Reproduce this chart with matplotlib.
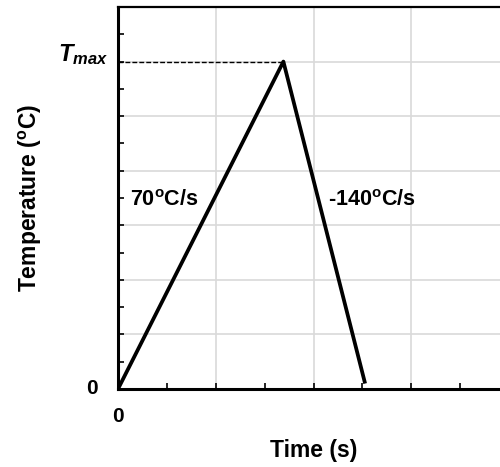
import matplotlib
matplotlib.use("Agg")
import matplotlib.pyplot as plt
from matplotlib.ticker import MultipleLocator, NullFormatter

plt.rcParams['font.family'] = ['Liberation Sans', 'DejaVu Sans']
plt.rcParams['mathtext.fontset'] = 'custom'
plt.rcParams['mathtext.rm'] = 'Liberation Sans:bold'
plt.rcParams['mathtext.bf'] = 'Liberation Sans:bold'
plt.rcParams['mathtext.it'] = 'Liberation Sans:italic:bold'
plt.rcParams['mathtext.bfit'] = 'Liberation Sans:italic:bold'

# thermal cycle (time in s, temperature in C)
time = [0, 4.23, 6.32]
temp = [0, 300, 5]
t_max = 300
heat_label = '70$^{\\mathbf{o}}$C/s'
cool_label = '-140$^{\\mathbf{o}}$C/s'

fig = plt.figure(figsize=(5, 4.67), dpi=100)
ax = fig.add_axes([118 / 500, 78 / 467, 391 / 500, 382 / 467])

ax.plot(time, temp, color='black', lw=2.7, solid_capstyle='butt', zorder=3)
ax.plot([0, time[1]], [t_max, t_max], color='black', lw=1.0, dashes=(3.5, 1.5), zorder=3)

ax.set_xlim(0, 10)
ax.set_ylim(0, 350)
ax.xaxis.set_major_locator(MultipleLocator(2.5))
ax.xaxis.set_minor_locator(MultipleLocator(1.25))
ax.yaxis.set_major_locator(MultipleLocator(50))
ax.yaxis.set_minor_locator(MultipleLocator(25))
ax.xaxis.set_major_formatter(NullFormatter())
ax.yaxis.set_major_formatter(NullFormatter())
ax.grid(True, which='major', color='#d9d9d9', lw=1.2, zorder=0)
ax.set_axisbelow(True)
ax.tick_params(which='both', direction='in', length=4.5, width=1.2, color='black')
ax.tick_params(top=False, right=False)

for side in ['left', 'bottom']:
    ax.spines[side].set_linewidth(2.2)
ax.spines['top'].set_linewidth(1.6)
ax.spines['right'].set_visible(False)

# tick labels
ax.text(-0.066, 0, '0', transform=ax.get_yaxis_transform(), ha='center', va='center',
        fontsize=15, fontweight='bold')
ax.text(-0.025, t_max, '$\\mathbfit{T_{max}}$', transform=ax.get_yaxis_transform(),
        ha='right', va='baseline', fontsize=17)
ax.text(0, -0.072, '0', transform=ax.get_xaxis_transform(), ha='center', va='center',
        fontsize=15, fontweight='bold')

# rate labels
ax.text(0.31, 173, heat_label, ha='left', va='center', fontsize=15.5, fontweight='bold')
ax.text(5.37, 173, cool_label, ha='left', va='center', fontsize=15.5, fontweight='bold')

fig.text(313.5 / 500, 1 - 450 / 467, 'Time (s)', ha='center', va='center',
         fontsize=16.5, fontweight='bold')
fig.text(30 / 500, 1 - 198 / 467, 'Temperature ($^{\\mathbf{o}}$C)', ha='center', va='center',
         rotation=90, fontsize=16.5, fontweight='bold')

fig.savefig('out.png', dpi=100)
